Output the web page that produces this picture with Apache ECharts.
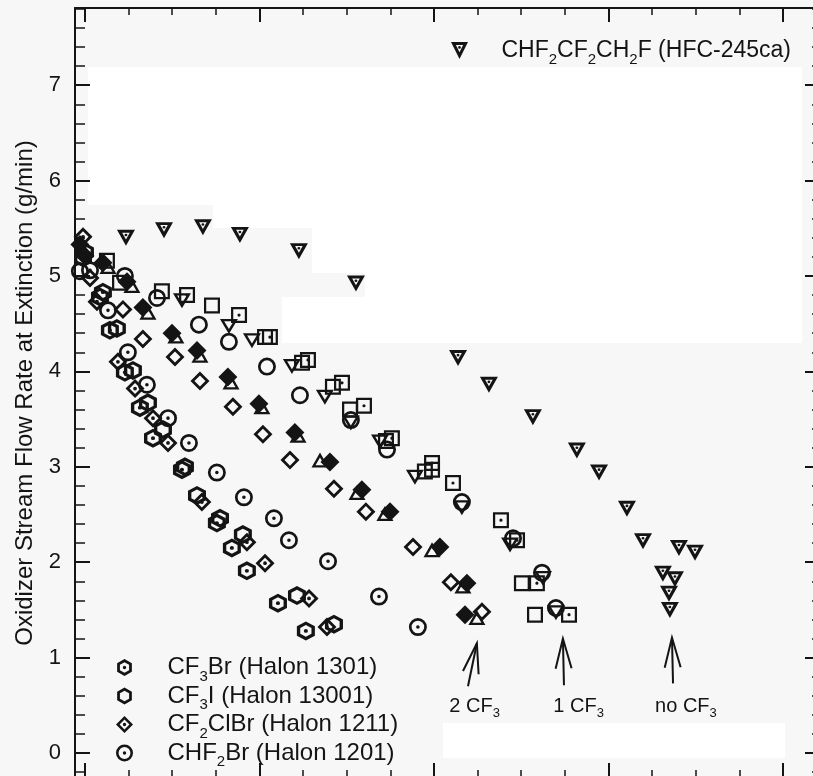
<!DOCTYPE html>
<html>
<head>
<meta charset="utf-8">
<title>Oxidizer stream flow rate at extinction</title>
<script src="https://cdn.jsdelivr.net/npm/echarts@6/dist/echarts.min.js"></script>
<style>
  html, body { margin: 0; padding: 0; background: #f7f7f7; overflow: hidden; }
  /* a little larger than the window: the right and bottom axis lines sit just outside the picture */
  #chart { width: 830px; height: 790px; }
</style>
</head>
<body>
<div id="chart"></div>
<script>
// x: agent amount in major-tick units (the scan has no x labels), y: g/min
const cf3br = [[0.0,5.25],[0.103,4.83],[0.143,4.43],[0.229,3.99],[0.315,3.62],[0.390,3.30],[0.556,2.97],[0.756,2.41],[0.842,2.15],[0.928,1.91],[1.106,1.57],[1.266,1.28]];
const cf3i = [[-0.011,5.19],[0.086,4.78],[0.183,4.45],[0.275,4.01],[0.361,3.67],[0.447,3.39],[0.573,3.00],[0.642,2.70],[0.774,2.46],[0.905,2.29],[1.215,1.65],[1.427,1.35]];
const cf2clbr = [[-0.011,5.41],[0.069,4.73],[0.189,4.10],[0.287,3.82],[0.390,3.51],[0.476,3.25],[0.670,2.63],[0.928,2.21],[1.032,1.99],[1.284,1.62],[1.387,1.32]];
const chf2br = [[0.029,5.06],[0.132,4.64],[0.246,4.20],[0.355,3.86],[0.476,3.51],[0.596,3.25],[0.756,2.94],[0.911,2.68],[1.083,2.46],[1.169,2.23],[1.393,2.01],[1.685,1.64],[1.908,1.32]];
const hfc245ca = [[0.235,5.40],[0.453,5.48],[0.676,5.51],[0.888,5.43],[1.226,5.26],[1.553,4.92],[2.138,4.14],[2.315,3.86],[2.567,3.52],[2.819,3.17],[2.946,2.94],[3.106,2.56],[3.198,2.22],[3.404,2.15],[3.496,2.10],[3.312,1.88],[3.381,1.82],[3.347,1.67],[3.352,1.50]];

// "2 CF3" agents (not in the legend)
const twoCf3Filled = [[-0.029,5.33],[0.0,5.21],[0.103,5.14],[0.241,4.94],[0.332,4.67],[0.499,4.40],[0.642,4.22],[0.819,3.94],[0.997,3.66],[1.203,3.36],[1.404,3.05],[1.587,2.76],[1.748,2.53],[2.034,2.16],[2.189,1.78],[2.178,1.45]];
const twoCf3Tri = [[0.132,5.10],[0.269,4.90],[0.361,4.62],[0.521,4.37],[0.659,4.17],[0.837,3.89],[1.014,3.63],[1.221,3.33],[1.347,3.07],[1.559,2.73],[1.719,2.51],[1.989,2.13],[2.166,1.75],[2.246,1.42]];
const twoCf3Dia = [[0.029,4.98],[0.218,4.65],[0.332,4.34],[0.516,4.15],[0.659,3.90],[0.848,3.63],[1.020,3.34],[1.175,3.07],[1.427,2.77],[1.610,2.53],[1.880,2.16],[2.097,1.79],[2.275,1.48]];

// "1 CF3" agents (not in the legend)
const oneCf3Sq = [[0.201,4.93],[0.441,4.84],[0.728,4.69],[1.032,4.36],[1.244,4.09],[1.421,3.84],[1.519,3.60],[1.725,3.27],[1.948,2.95],[1.989,2.97],[2.504,1.78],[2.579,1.45]];
const oneCf3DotSq = [[0.126,5.16],[0.585,4.80],[0.883,4.59],[1.060,4.36],[1.278,4.12],[1.473,3.88],[1.599,3.64],[1.759,3.30],[1.989,3.04],[2.109,2.83],[2.384,2.44],[2.476,2.23],[2.590,1.78],[2.774,1.45]];
const oneCf3DownTri = [[0.556,4.74],[0.825,4.47],[0.957,4.32],[1.186,4.05],[1.375,3.73],[1.524,3.46],[1.691,3.26],[1.891,2.89],[2.160,2.57],[2.436,2.18],[2.625,1.83],[2.699,1.47]];
const oneCf3Circ = [[-0.029,5.05],[0.229,5.00],[0.413,4.77],[0.653,4.49],[0.825,4.31],[1.043,4.05],[1.232,3.75],[1.524,3.49],[1.731,3.18],[2.160,2.63],[2.453,2.25],[2.619,1.89],[2.699,1.52]];

const yMajor = [0, 1, 2, 3, 4, 5, 6, 7];
const xMajor = [0, 1, 2, 3, 4];

const X_MIN = -0.057, X_MAX = 4.218;
const Y_MIN = -0.262, Y_MAX = 7.809;

const yMinor = [];
for (let v = -0.2; v < Y_MAX; v += 0.2) {
  const r = Math.round(v * 10) / 10;
  if (Math.abs(r - Math.round(r)) > 0.01) yMinor.push(r);
}
const xMinor = [];
for (let v = 0.25; v < X_MAX; v += 0.25) {
  if (Math.abs(v - Math.round(v)) > 0.01) xMinor.push(v);
}

const INK = '#141414';
const FONT = '"Liberation Sans", Arial, Helvetica, sans-serif';

// marker outlines as ring paths (outer clockwise, inner reversed), optional centre dot
const DOT = 'M40 50 A10 10 0 1 1 60 50 A10 10 0 1 1 40 50 Z';
const HEX = 'M50 0 L93.3 25 L93.3 75 L50 100 L6.7 75 L6.7 25 Z M50 19 L23 34.5 L23 65.5 L50 81 L77 65.5 L77 34.5 Z';
const CIRC = 'M0 50 A50 50 0 1 1 100 50 A50 50 0 1 1 0 50 Z M15 50 A35 35 0 1 0 85 50 A35 35 0 1 0 15 50 Z';
const SQ = 'M0 0 L100 0 L100 100 L0 100 Z M14 14 L14 86 L86 86 L86 14 Z';
const DIA = 'M50 0 L100 50 L50 100 L0 50 Z M50 21 L21 50 L50 79 L79 50 Z';
const DTRI = 'M0 0 L100 0 L50 100 Z M23.5 15 L50 67 L76.5 15 Z';
const UTRI = 'M50 0 L100 100 L0 100 Z M50 33 L23.5 85 L76.5 85 Z';
const DTRI_DOT = 'M0 0 L100 0 L50 100 Z M29 18 L50 59.7 L71 18 Z M42 32 A8 8 0 1 1 58 32 A8 8 0 1 1 42 32 Z';
const FILLED_DIA = 'M50 0 L100 50 L50 100 L0 50 Z';

function scatter(name, data, path, size) {
  return {
    name: name,
    type: 'scatter',
    xAxisIndex: 0,
    yAxisIndex: 0,
    data: data,
    symbol: 'path://' + path,
    symbolSize: size,
    itemStyle: { color: INK, borderWidth: 0, opacity: 1 },
    emphasis: { disabled: true },
    z: 3
  };
}

const series = [
  scatter('1 CF3 open square', oneCf3Sq, SQ, [16, 16]),
  scatter('1 CF3 dotted square', oneCf3DotSq, SQ + ' ' + DOT, [16, 16]),
  scatter('1 CF3 open triangle', oneCf3DownTri, DTRI, [18, 15]),
  scatter('1 CF3 open circle', oneCf3Circ, CIRC, [18, 18]),
  scatter('2 CF3 open triangle', twoCf3Tri, UTRI, [17, 15]),
  scatter('2 CF3 open diamond', twoCf3Dia, DIA, [19, 19]),
  scatter('2 CF3 filled diamond', twoCf3Filled, FILLED_DIA, [19, 19]),
  scatter('CF3Br (Halon 1301)', cf3br, HEX + ' ' + DOT, [18, 19]),
  scatter('CF3I (Halon 13001)', cf3i, HEX, [18, 19]),
  scatter('CF2ClBr (Halon 1211)', cf2clbr, DIA + ' ' + DOT, [19, 19]),
  scatter('CHF2Br (Halon 1201)', chf2br, CIRC + ' ' + DOT, [18, 18]),
  scatter('CHF2CF2CH2F (HFC-245ca)', hfc245ca, DTRI_DOT, [18, 16])
];

// chemical formulas: digits in the formula part become subscripts
function formulaRich(name) {
  const i = name.indexOf(' ');
  const formula = i < 0 ? name : name.slice(0, i);
  const rest = i < 0 ? '' : name.slice(i);
  return '{t|' + formula.replace(/(\d)/g, '}{s|$1}{t|') + rest + '}';
}

// subscript: a thin token pushed down by its top padding
function richStyle(size, subSize, drop) {
  return {
    t: { fontSize: size, lineHeight: 24, verticalAlign: 'middle', fontFamily: FONT, color: INK },
    s: { fontSize: subSize, lineHeight: 2, verticalAlign: 'middle', padding: [drop, 0, 0, 0], fontFamily: FONT, color: INK }
  };
}

function tickAxis(extra) {
  return Object.assign({
    type: 'value',
    axisLine: { show: false, onZero: false },
    axisLabel: { show: false },
    splitLine: { show: false },
    axisPointer: { show: false }
  }, extra);
}

const frameLine = { show: true, onZero: false, lineStyle: { color: INK, width: 2 } };
const majorStyle = { color: INK, width: 2 };
const minorStyle = { color: INK, width: 1.5 };

const gridBox = { left: 75, right: 9, top: 8, bottom: 12, containLabel: false };

const option = {
  animation: false,
  backgroundColor: '#f7f7f7',
  // grid 0: data and major ticks, grid 1: same box, minor ticks
  grid: [Object.assign({}, gridBox), Object.assign({}, gridBox)],
  xAxis: [
    tickAxis({ gridIndex: 0, min: X_MIN, max: X_MAX, position: 'bottom', axisLine: frameLine,
      axisTick: { show: true, inside: true, length: 15, customValues: xMajor, lineStyle: majorStyle } }),
    tickAxis({ gridIndex: 0, min: X_MIN, max: X_MAX, position: 'top', axisLine: frameLine,
      axisTick: { show: true, inside: true, length: 14, customValues: xMajor, lineStyle: majorStyle } }),
    tickAxis({ gridIndex: 1, min: X_MIN, max: X_MAX, position: 'bottom',
      axisTick: { show: true, inside: true, length: 8, customValues: xMinor, lineStyle: minorStyle } }),
    tickAxis({ gridIndex: 1, min: X_MIN, max: X_MAX, position: 'top',
      axisTick: { show: true, inside: true, length: 7, customValues: xMinor, lineStyle: minorStyle } })
  ],
  yAxis: [
    tickAxis({ gridIndex: 0, min: Y_MIN, max: Y_MAX, position: 'left', axisLine: frameLine,
      axisTick: { show: true, inside: true, length: 15, customValues: yMajor, lineStyle: majorStyle },
      axisLabel: { show: true, customValues: yMajor, margin: 14, fontSize: 22, color: INK, fontFamily: FONT },
      name: 'Oxidizer Stream Flow Rate at Extinction (g/min)',
      nameLocation: 'middle', nameRotate: 90, nameGap: 37,
      nameTextStyle: { fontSize: 24, color: INK, fontFamily: FONT } }),
    tickAxis({ gridIndex: 0, min: Y_MIN, max: Y_MAX, position: 'right', axisLine: frameLine,
      axisTick: { show: true, inside: true, length: 16, customValues: yMajor, lineStyle: majorStyle } }),
    tickAxis({ gridIndex: 1, min: Y_MIN, max: Y_MAX, position: 'left',
      axisTick: { show: true, inside: true, length: 10, customValues: yMinor, lineStyle: minorStyle } }),
    tickAxis({ gridIndex: 1, min: Y_MIN, max: Y_MAX, position: 'right',
      axisTick: { show: true, inside: true, length: 9, customValues: yMinor, lineStyle: minorStyle } })
  ],
  legend: [
    {
      data: ['CF3Br (Halon 1301)', 'CF3I (Halon 13001)', 'CF2ClBr (Halon 1211)', 'CHF2Br (Halon 1201)'],
      orient: 'vertical', left: 116, top: 651,
      itemWidth: 76, itemHeight: 17, itemGap: -4.5,
      selectedMode: false, padding: 0,
      formatter: formulaRich,
      textStyle: { rich: richStyle(24, 15, 18) }
    },
    {
      data: ['CHF2CF2CH2F (HFC-245ca)'],
      orient: 'horizontal', left: 451, top: 34,
      itemWidth: 74, itemHeight: 17,
      selectedMode: false, padding: 0,
      formatter: formulaRich,
      textStyle: { rich: richStyle(23, 15, 18) }
    }
  ],
  series: series
};

// annotation arrows (tip/tail in data coordinates) and their captions
const arrowTips = [[2.246, 1.15], [2.739, 1.20], [3.364, 1.21]];
const arrowTails = [[2.195, 0.70], [2.745, 0.71], [3.370, 0.73]];
const arrowText = ['{t|2 CF}{s|3}', '{t|1 CF}{s|3}', '{t|no CF}{s|3}'];
const arrowTextPos = [[2.233, 0.49], [2.829, 0.49], [3.444, 0.49]];

const chart = echarts.init(document.getElementById('chart'));
chart.setOption(option);

const toPx = p => chart.convertToPixel({ xAxisIndex: 0, yAxisIndex: 0 }, p);
const lineStyle = { stroke: INK, lineWidth: 2, fill: null };
const graphics = [];

// lighter patches of the scanned page
const patches = [[88, 67, 714, 138], [213, 205, 589, 23], [312, 228, 490, 45], [365, 273, 437, 24], [282, 297, 520, 46], [443, 723, 342, 35]];
patches.forEach(r => graphics.push({
  type: 'rect', silent: true, z: -10,
  shape: { x: r[0], y: r[1], width: r[2], height: r[3] },
  style: { fill: '#ffffff' }
}));

const annoRich = {
  t: { fontSize: 20, lineHeight: 22, verticalAlign: 'middle', fontFamily: FONT, color: INK },
  s: { fontSize: 13, lineHeight: 2, verticalAlign: 'middle', padding: [14, 0, 0, 0], fontFamily: FONT, color: INK }
};

arrowTips.forEach((t, i) => {
  const tip = toPx(t), tail = toPx(arrowTails[i]);
  const ang = Math.atan2(tail[1] - tip[1], tail[0] - tip[0]);
  const L = 31, h = 0.26;
  const left = [tip[0] + L * Math.cos(ang - h), tip[1] + L * Math.sin(ang - h)];
  const right = [tip[0] + L * Math.cos(ang + h), tip[1] + L * Math.sin(ang + h)];
  graphics.push({ type: 'polyline', silent: true, z: 10, shape: { points: [tail, tip] }, style: lineStyle });
  graphics.push({ type: 'polyline', silent: true, z: 10, shape: { points: [left, tip, right] }, style: lineStyle });
  const tp = toPx(arrowTextPos[i]);
  graphics.push({
    type: 'text', silent: true, z: 10, x: tp[0], y: tp[1],
    style: { text: arrowText[i], rich: annoRich, align: 'center', verticalAlign: 'middle', fill: INK }
  });
});

chart.setOption({ graphic: graphics });
</script>
</body>
</html>
